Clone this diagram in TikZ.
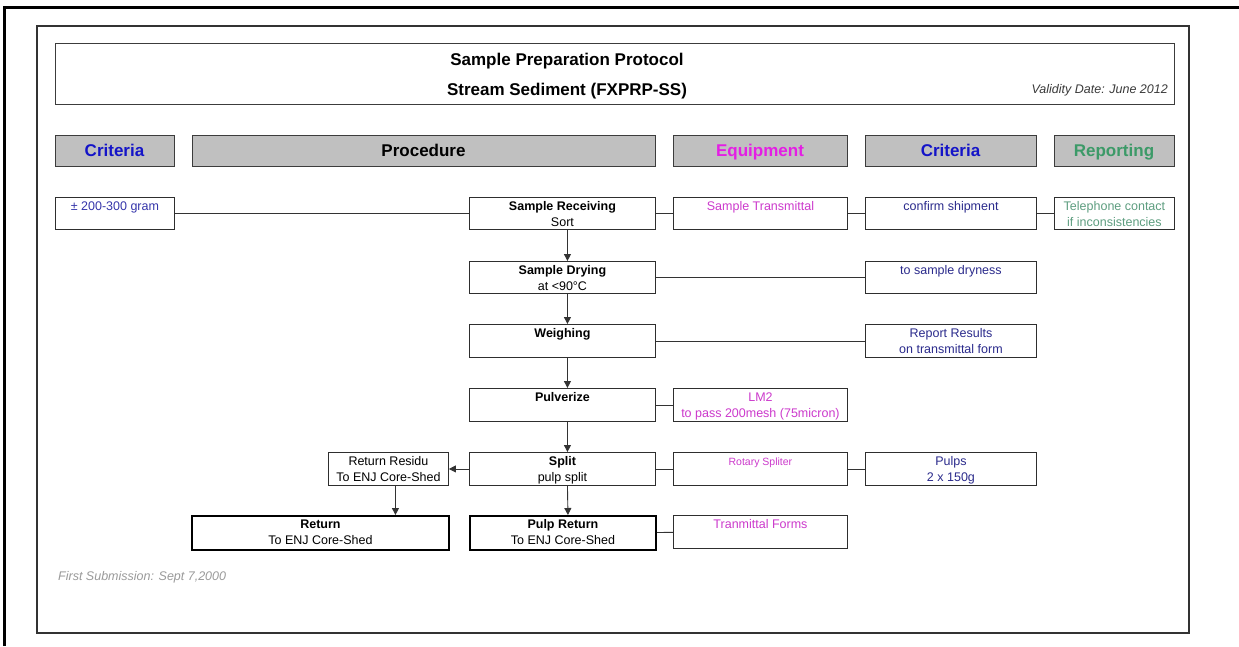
\documentclass[tikz,border=0pt]{standalone}
\usepackage{fontspec}
\setmainfont{Liberation Sans}
\usetikzlibrary{arrows.meta}

\definecolor{critblue}{HTML}{1414C8}
\definecolor{critnavy}{HTML}{2B2B8C}
\definecolor{amtblue}{HTML}{3535AA}
\definecolor{equipmag}{HTML}{E41EE4}
\definecolor{equiptext}{HTML}{CC3ACC}
\definecolor{repgreen}{HTML}{3C9A68}
\definecolor{reptext}{HTML}{5E9E80}
\definecolor{hdrfill}{HTML}{C0C0C0}
\definecolor{hdrline}{HTML}{3C3C3C}
\definecolor{boxline}{HTML}{2E2E2E}
\definecolor{linkgray}{HTML}{333333}
\definecolor{framegray}{HTML}{333333}
\definecolor{notegray}{HTML}{9A9A9A}
\definecolor{validgray}{HTML}{3A3A3A}

% font helpers
\newcommand{\titlefont}{\fontsize{17}{17}\selectfont\bfseries}
\newcommand{\boxfont}{\fontsize{12.5}{16}\selectfont}
\newcommand{\smallboxfont}{\fontsize{10.5}{14}\selectfont}
\newcommand{\tstrut}{\rule{0pt}{9.5pt}}

% a framed cell: name, x1, y1, x2, y2, box style, text style, text
\newcommand{\cell}[8]{%
  \node[#6, minimum width={#4-#2}, minimum height={#5-#3}] (#1) at (#2,#3) {};
  \node[lbl, #7] (#1-t) at (#1.north) {\tstrut#8};}

% a grey column heading: name, x1, x2, colour, text
\newcommand{\heading}[5]{%
  \node[hdr, minimum width={#3-#2}, text=#4] (#1) at ({(#2+#3)/2},150.5) {#5};}

\begin{document}
\begin{tikzpicture}[x=1pt,y=-1pt,
  box/.style={draw=boxline, line width=0.9pt, anchor=north west, inner sep=0pt},
  thickbox/.style={draw=black, line width=1.9pt, anchor=north west, inner sep=0pt},
  hdr/.style={draw=hdrline, fill=hdrfill, line width=1pt, inner sep=0pt,
    minimum height=31pt, font=\titlefont, text height=12.2pt, text depth=0pt},
  lbl/.style={anchor=north, inner sep=0pt, yshift=-4pt, align=center, font=\boxfont},
  link/.style={draw=linkgray, line width=0.9pt},
  arr/.style={link, -{Triangle[length=7pt,width=7pt]}}]

% page area
\fill[white] (0,0) rectangle (1239,646);
\useasboundingbox (0,0) rectangle (1239,646);

% sheet edge and form frame
\draw[black, line width=2.8pt] (4.7,646) -- (4.7,7.3) -- (1239,7.3);
\draw[framegray, line width=1.8pt] (37,26) rectangle (1189,633);

% title block
\node[draw=hdrline, line width=0.9pt, anchor=north west, inner sep=0pt,
  minimum width=1119pt, minimum height=61pt] (titlebox) at (55,43) {};
\node[font=\titlefont, text height=12.2pt, text depth=0pt, inner sep=0pt]
  (title1) at (567,59) {Sample Preparation Protocol};
\node[font=\titlefont, text height=12.2pt, text depth=0pt, inner sep=0pt]
  (title2) at (567,89) {Stream Sediment (FXPRP-SS)};
\node[font=\fontsize{12.5}{12.5}\selectfont\itshape, text=validgray, anchor=east,
  text height=9pt, text depth=0pt, inner sep=0pt]
  (validity) at (1168,89) {Validity Date: June 2012};

% column headings
\heading{h-crit}{55}{174}{critblue}{Criteria}
\heading{h-proc}{192}{655}{black}{Procedure}
\heading{h-equip}{673}{847}{equipmag}{Equipment}
\heading{h-crit2}{865}{1036}{critblue}{Criteria}
\heading{h-rep}{1054}{1174}{repgreen}{Reporting}

% row 1
\cell{amount}{55}{197}{174}{229}{box}{text=amtblue}{± 200-300 gram}
\cell{recv}{469}{197}{655}{229}{box}{}{\textbf{Sample Receiving}\\Sort}
\cell{transm}{673}{197}{847}{229}{box}{text=equiptext}{Sample Transmittal}
\cell{confirm}{865}{197}{1036}{229}{box}{text=critnavy}{confirm shipment}
\cell{phone}{1054}{197}{1174}{229}{box}{text=reptext}{Telephone contact\\if inconsistencies}

% row 2
\cell{dry}{469}{261}{655}{293}{box}{}{\textbf{Sample Drying}\\at <90°C}
\cell{dryness}{865}{261}{1036}{293}{box}{text=critnavy}{to sample dryness}

% row 3
\cell{weigh}{469}{324}{655}{357}{box}{}{\textbf{Weighing}}
\cell{results}{865}{324}{1036}{357}{box}{text=critnavy}{Report Results\\on transmittal form}

% row 4
\cell{pulv}{469}{388}{655}{421}{box}{}{\textbf{Pulverize}}
\cell{lm}{673}{388}{847}{421}{box}{text=equiptext}{LM2\\to pass 200mesh (75micron)}

% row 5
\cell{residu}{328}{452}{448}{485}{box}{}{Return Residu\\To ENJ Core-Shed}
\cell{split}{469}{452}{655}{485}{box}{}{\textbf{Split}\\pulp split}
\cell{rotary}{673}{452}{847}{485}{box}{text=equiptext, font=\smallboxfont}{Rotary Spliter}
\cell{pulps}{865}{452}{1036}{485}{box}{text=critnavy}{Pulps\\2 x 150g}

% row 6
\cell{ret}{191}{515}{448}{549}{thickbox}{}{\textbf{Return}\\To ENJ Core-Shed}
\cell{pulpret}{469}{515}{655}{549}{thickbox}{}{\textbf{Pulp Return}\\To ENJ Core-Shed}
\cell{forms}{673}{515}{847}{548}{box}{text=equiptext}{Tranmittal Forms}

% footer note
\node[font=\fontsize{12.5}{12.5}\selectfont\itshape, text=notegray, anchor=west,
  text height=9pt, text depth=0pt, inner sep=0pt]
  (firstsub) at (58,576) {First Submission: Sept 7,2000};

% side links
\draw[link] (amount) -- (recv);
\draw[link] (recv) -- (transm);
\draw[link] (transm) -- (confirm);
\draw[link] (confirm) -- (phone);
\draw[link] (dry) -- (dryness);
\draw[link] (weigh) -- (results);
\draw[link] (pulv) -- (lm);
\draw[link] (split) -- (rotary);
\draw[link] (rotary) -- (pulps);
\draw[link] (pulpret) -- (forms);

% process flow
\draw[arr] ([xshift=5pt]recv.south) -- ([xshift=5pt]dry.north);
\draw[arr] ([xshift=5pt]dry.south) -- ([xshift=5pt]weigh.north);
\draw[arr] ([xshift=5pt]weigh.south) -- ([xshift=5pt]pulv.north);
\draw[arr] ([xshift=5pt]pulv.south) -- ([xshift=5pt]split.north);
\draw[arr] ([xshift=5pt]split.south) -- ([xshift=5pt]pulpret.north);
\draw[arr] (split.west) -- (residu.east);
\coordinate (residu-out) at ([xshift=7pt]residu.south);
\draw[arr] (residu-out) -- (residu-out |- ret.north);
\end{tikzpicture}
\end{document}
